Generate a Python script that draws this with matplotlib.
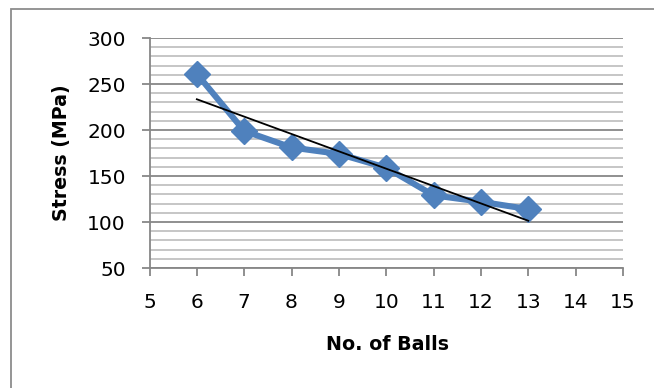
import numpy as np
import matplotlib.pyplot as plt
from matplotlib.patches import Rectangle
from matplotlib.ticker import MultipleLocator

balls = [6, 7, 8, 9, 10, 11, 12, 13]
stress = [261, 199, 181, 174, 159, 129, 122, 114]

plt.rcParams['font.family'] = ['DejaVu Sans']

W, H = 654, 388
fig = plt.figure(figsize=(W / 100, H / 100), dpi=100)
fig.patch.set_facecolor('white')

# chart frame
fig.patches.append(Rectangle((11 / W, -0.1), 1.0, 1 - 9 / H + 0.1,
                             transform=fig.transFigure, fill=False,
                             edgecolor='#8c8c8c', linewidth=1.3))

ax = fig.add_axes([149.5 / W, 1 - 268 / H, 473.5 / W, 230 / H])

ax.set_xlim(5, 15)
ax.set_ylim(50, 300)
ax.xaxis.set_major_locator(MultipleLocator(1))
ax.yaxis.set_major_locator(MultipleLocator(50))
ax.yaxis.set_minor_locator(MultipleLocator(10))

ax.grid(axis='y', which='major', color='#878787', linewidth=1.3, zorder=0)
ax.grid(axis='y', which='minor', color='#c2c2c2', linewidth=1.3, zorder=0)
ax.grid(axis='x', visible=False)

for s in ['top', 'right']:
    ax.spines[s].set_visible(False)
for s in ['left', 'bottom']:
    ax.spines[s].set_color('#878787')
    ax.spines[s].set_linewidth(1.3)

ax.tick_params(axis='both', which='major', length=6, width=1.3,
               color='#878787', labelsize=14.5)
ax.tick_params(axis='x', pad=12)
ax.tick_params(axis='y', pad=11)
ax.tick_params(axis='y', which='minor', length=0)

ax.plot(balls, stress, color='#4f81bd', linewidth=4.4, marker='D',
        markersize=13, zorder=3, clip_on=False)

# linear trendline
k, b = np.polyfit(balls, stress, 1)
xt = np.array([balls[0], balls[-1]])
ax.plot(xt, k * xt + b, color='black', linewidth=1.3, zorder=4)

fig.text(387 / W, 1 - 344 / H, 'No. of Balls', fontsize=13.7,
         fontweight='bold', ha='center', va='center')
fig.text(61 / W, 1 - 153 / H, 'Stress (MPa)', fontsize=13.7,
         fontweight='bold', ha='center', va='center', rotation=90)

fig.savefig('out.png', dpi=100)
